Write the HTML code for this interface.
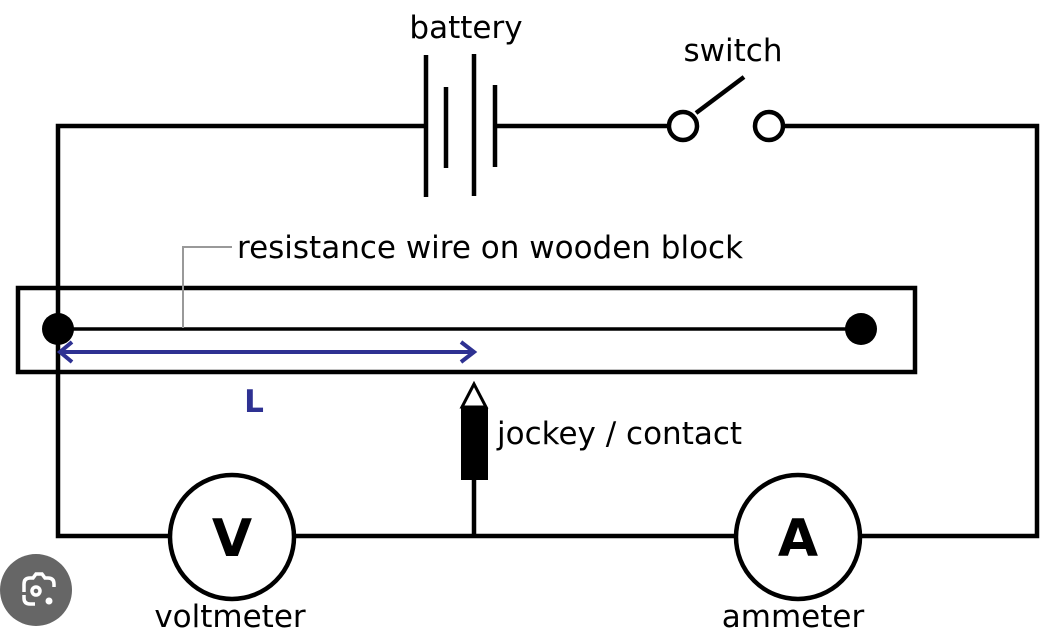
<!DOCTYPE html>
<html><head><meta charset="utf-8"><style>
html,body{margin:0;padding:0;background:#fff;}
svg{display:block;}
text{font-family:"DejaVu Sans","Liberation Sans",sans-serif;}
</style></head><body>
<svg width="1062" height="633" viewBox="0 0 1062 633" xmlns="http://www.w3.org/2000/svg">
<g stroke="#000" stroke-width="4.5" fill="none">
<polyline points="426,126 58,126 58,536 170,536"/>
<polyline points="495,126 668,126"/>
<polyline points="784,126 1037,126 1037,536 861,536"/>
<line x1="295" y1="536" x2="735" y2="536"/>
<line x1="474" y1="480" x2="474" y2="536"/>
<line x1="426" y1="55" x2="426" y2="197"/>
<line x1="446" y1="87" x2="446" y2="168"/>
<line x1="474" y1="54" x2="474" y2="196"/>
<line x1="495" y1="85" x2="495" y2="167"/>
<circle cx="683" cy="126" r="14" fill="#fff"/>
<circle cx="769" cy="126" r="14" fill="#fff"/>
<line x1="696" y1="113" x2="744" y2="77"/>
<rect x="18" y="288" width="897" height="84"/>
<line x1="58" y1="329" x2="861" y2="329" stroke-width="3.5"/>
<circle cx="232" cy="537" r="62" fill="#fff"/>
<circle cx="798" cy="537" r="62" fill="#fff"/>
</g>
<polyline points="183,328 183,247 232,247" stroke="#999" stroke-width="2" fill="none"/>
<circle cx="58" cy="329" r="16" fill="#000"/>
<circle cx="861" cy="329" r="16" fill="#000"/>
<g stroke="#2e3192" stroke-width="4" fill="none">
<line x1="60" y1="352" x2="474" y2="352"/>
<polyline points="72,342 60,352 72,362"/>
<polyline points="461,342 474,352 461,362"/>
</g>
<polygon points="474,384 462,407 486,407" fill="#fff" stroke="#000" stroke-width="3"/>
<rect x="461" y="408" width="27" height="72" fill="#000"/>
<text x="466" y="38" font-size="31" text-anchor="middle">battery</text>
<text x="733" y="61" font-size="31" text-anchor="middle">switch</text>
<text x="237" y="258" font-size="31">resistance wire on wooden block</text>
<text x="254" y="412" font-size="31" font-weight="bold" fill="#2e3192" text-anchor="middle">L</text>
<text x="497" y="444" font-size="31">jockey / contact</text>
<text x="232" y="556" font-size="52" font-weight="bold" text-anchor="middle">V</text>
<text x="798" y="556" font-size="52" font-weight="bold" text-anchor="middle">A</text>
<text x="230" y="627" font-size="31" text-anchor="middle">voltmeter</text>
<text x="793" y="627" font-size="31" text-anchor="middle">ammeter</text>
<circle cx="36" cy="590" r="36" fill="#666"/>
<g stroke="#fff" stroke-width="3.5" fill="none">
<path d="M24,592 v-8 q0,-6 6,-6 h3 l3,-4 h6 l3,4 h3 q6,0 6,6 v3"/>
<path d="M24,595 v3 q0,6 6,6 h5"/>
<circle cx="36" cy="591" r="4"/>
</g>
<circle cx="49" cy="601" r="3.5" fill="#fff"/>
</svg>
</body></html>
